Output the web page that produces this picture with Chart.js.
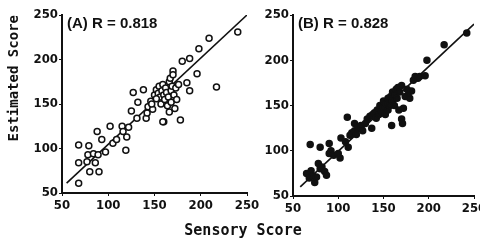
<!DOCTYPE html>
<html>
<head>
<meta charset="utf-8">
<script src="https://cdn.jsdelivr.net/npm/chart.js@4/dist/chart.umd.min.js"></script>
<style>
  body { margin: 0; background: #fff; }
  #wrap { position: relative; width: 480px; height: 242px; overflow: hidden; }
  canvas { position: absolute; top: 0; }
  #xtitle {
    position: absolute; left: 0; width: 486px; top: 221px; text-align: center;
    font: bold 15px "DejaVu Sans Mono", monospace; color: #111;
  }
</style>
</head>
<body>
<div id="wrap">
  <canvas id="chartA" width="262" height="242" style="left:0"></canvas>
  <canvas id="chartB" width="218" height="242" style="left:262px"></canvas>
  <div id="xtitle">Sensory Score</div>
</div>
<script>
// panel A - sensory vs estimated score
const sensoryA = [68, 68, 68, 77, 78, 79, 80, 84, 86, 88, 89, 90, 93, 97, 102, 105, 109, 115, 116, 119,
  120, 122, 125, 127, 131, 132, 138, 141, 142, 143, 146, 148, 150, 152, 154, 155, 156, 157, 158, 159,
  160, 160, 161, 162, 163, 164, 165, 166, 166, 167, 168, 168, 169, 170, 170, 171, 172, 173, 174, 176,
  178, 180, 185, 188, 188, 196, 198, 209, 217, 240, 159, 152, 147];
const estimatedA = [61, 84, 104, 85, 93, 103, 74, 94, 84, 119, 93, 74, 110, 96, 125, 106, 110, 125, 119, 98,
  113, 124, 142, 163, 134, 152, 166, 134, 140, 147, 153, 144, 160, 166, 162, 170, 158, 150, 165, 172,
  160, 130, 155, 168, 163, 148, 158, 175, 141, 179, 165, 152, 170, 187, 183, 160, 145, 168, 155, 172,
  132, 198, 174, 165, 201, 184, 212, 224, 169, 231, 130, 156, 150];
const fitA = [[55, 61], [250, 250]];

// panel B
const sensoryB = [65, 68, 70, 72, 74, 76, 78, 80, 82, 85, 87, 69, 80, 90, 90, 92, 95, 100, 102, 103,
  108, 110, 111, 113, 115, 118, 118, 120, 122, 125, 127, 130, 132, 135, 137, 138, 140, 142, 143, 145,
  146, 148, 150, 150, 152, 153, 155, 155, 157, 158, 159, 160, 160, 162, 163, 164, 165, 166, 167, 168,
  170, 170, 171, 172, 174, 176, 178, 179, 181, 183, 185, 188, 190, 196, 198, 217, 242];
const estimatedB = [75, 70, 78, 72, 65, 71, 86, 80, 82, 77, 73, 107, 104, 108, 97, 100, 95, 97, 92, 114,
  110, 137, 104, 117, 120, 130, 122, 118, 125, 128, 122, 130, 135, 138, 125, 140, 142, 136, 145, 140,
  150, 143, 148, 155, 140, 152, 158, 145, 150, 160, 128, 155, 165, 150, 162, 168, 158, 170, 145, 165,
  172, 135, 130, 147, 160, 168, 165, 158, 166, 178, 182, 180, 182, 183, 200, 217, 230];
const fitB = [[58, 60], [250, 240]];

const tickValues = [50, 100, 150, 200, 250];
const notes = ['(A) R = 0.818', '(B) R = 0.828'];

const tickFont = { family: '"Liberation Sans Narrow", "DejaVu Sans Condensed", "Liberation Sans", sans-serif', size: 13, weight: 'bold' };

function pts(xs, ys) {
  return xs.map((x, i) => ({ x: x, y: ys[i] }));
}

const notePlugin = {
  id: 'note',
  afterDatasetsDraw(chart, args, opts) {
    const ctx = chart.ctx;
    const a = chart.chartArea;
    ctx.save();
    ctx.font = 'bold 15px "Liberation Sans", sans-serif';
    ctx.fillStyle = '#111';
    ctx.textBaseline = 'middle';
    ctx.fillText(opts.text, a.left + 5, a.top + 9);
    ctx.restore();
  }
};

function makeChart(id, xs, ys, fit, note, hollow, yWidth, xHeight, padRight, withTitle) {
  return new Chart(id, {
    type: 'scatter',
    data: {
      datasets: [{
        data: pts(xs, ys),
        pointRadius: 3,
        pointBorderWidth: 1.5,
        pointBorderColor: '#111',
        pointBackgroundColor: hollow ? '#fff' : '#111'
      }, {
        type: 'line',
        data: fit.map(p => ({ x: p[0], y: p[1] })),
        borderColor: '#111',
        borderWidth: 1.6,
        pointRadius: 0,
        fill: false
      }]
    },
    options: {
      responsive: false,
      animation: false,
      devicePixelRatio: 1,
      layout: { padding: { top: 15, right: padRight, left: 0, bottom: 0 } },
      plugins: { legend: { display: false }, tooltip: { enabled: false }, note: { text: note } },
      scales: {
        x: {
          type: 'linear', min: 50, max: 250,
          afterBuildTicks: s => { s.ticks = tickValues.map(v => ({ value: v })); },
          afterFit: s => { s.height = xHeight; s.paddingRight = 0; s.paddingLeft = 0; },
          border: { color: '#111', width: 2 },
          grid: { drawOnChartArea: false, color: '#111', tickLength: 3 },
          ticks: { color: '#111', font: tickFont, padding: 2, maxRotation: 0 }
        },
        y: {
          min: 50, max: 250,
          afterBuildTicks: s => { s.ticks = tickValues.map(v => ({ value: v })); },
          afterFit: s => { s.width = yWidth; s.paddingTop = 0; },
          border: { color: '#111', width: 2 },
          grid: { drawOnChartArea: false, color: '#111', tickLength: 3 },
          ticks: { color: '#111', font: tickFont, padding: 1 },
          title: {
            display: withTitle, text: 'Estimated Score', align: 'end', color: '#111',
            font: { family: '"DejaVu Sans Mono", monospace', size: 14, weight: 'bold' },
            padding: { top: 6, bottom: 0 }
          }
        }
      }
    },
    plugins: [notePlugin]
  });
}

makeChart('chartA', sensoryA, estimatedA, fitA, notes[0], true, 62, 49, 15, true);
makeChart('chartB', sensoryB, estimatedB, fitB, notes[1], false, 31, 46, 6, false);
</script>
</body>
</html>
